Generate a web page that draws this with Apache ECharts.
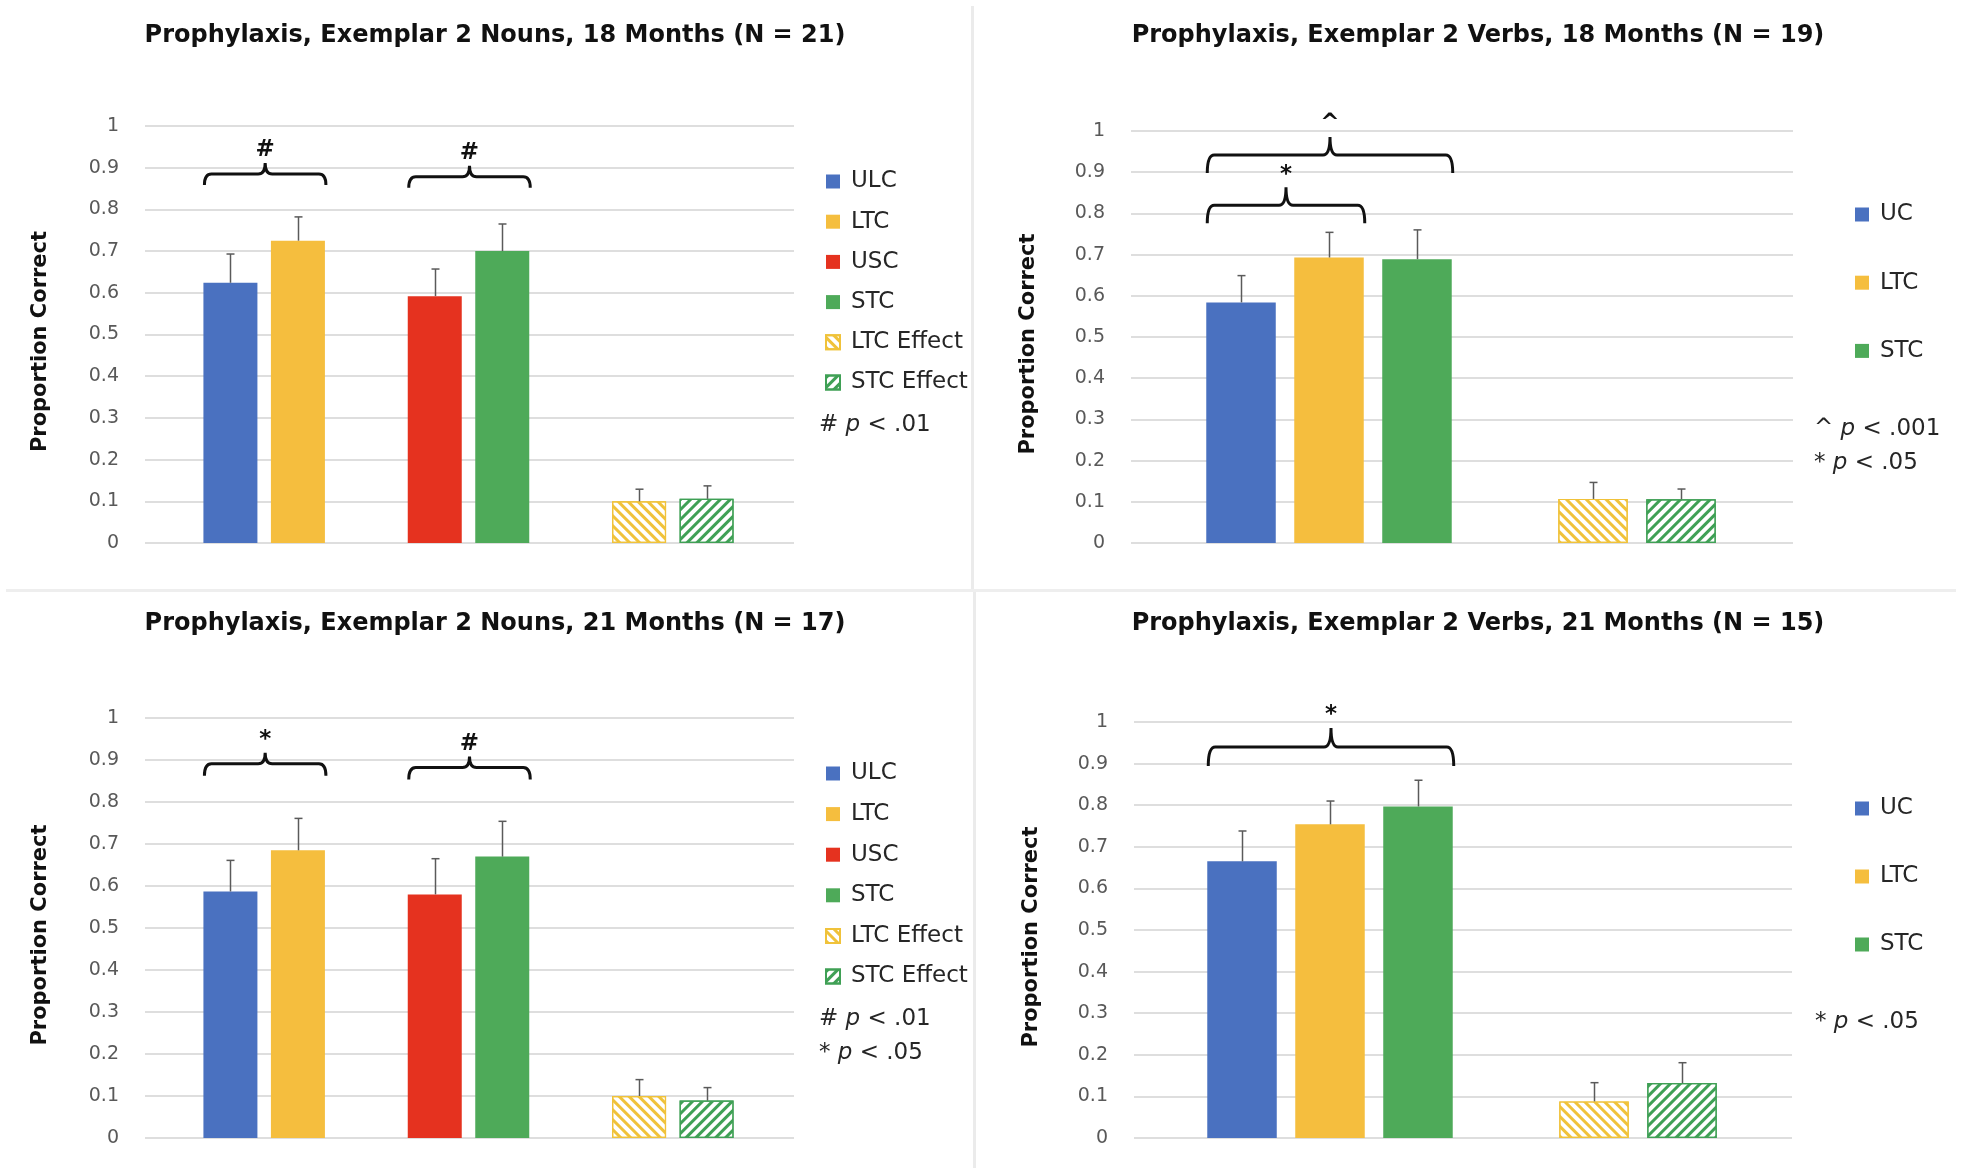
<!DOCTYPE html>
<html>
<head>
<meta charset="utf-8">
<script src="https://cdn.jsdelivr.net/npm/echarts@6/dist/echarts.min.js"></script>
<style>
  html, body { margin: 0; padding: 0; background: #ffffff; }
  #chart { width: 1962px; height: 1175px; }
</style>
</head>
<body>
<div id="chart"></div>
<script>
// ---------------- DATA ----------------
const yTicks = [0, 0.1, 0.2, 0.3, 0.4, 0.5, 0.6, 0.7, 0.8, 0.9, 1];

const nounsGroups = ['Label', 'Syntax', 'Effect'];
const nounsLabels = ['ULC', 'LTC', 'USC', 'STC', 'LTC Effect', 'STC Effect'];
const nounsGroupOf = [0, 0, 1, 1, 2, 2];
const nounsSlotOf = [0, 1, 0, 1, 0, 1];

const verbsGroups = ['Condition', 'Effect'];
const verbsLabels = ['UC', 'LTC', 'STC', 'LTC Effect', 'STC Effect'];
const verbsGroupOf = [0, 0, 0, 1, 1];
const verbsSlotOf = [0, 1, 2, 0, 1];

const nouns18Title = 'Prophylaxis, Exemplar 2 Nouns, 18 Months (N = 21)';
const nouns18Means = [0.624, 0.725, 0.592, 0.700, 0.100, 0.106];
const nouns18Errors = [0.069, 0.057, 0.065, 0.065, 0.029, 0.031];
const nouns18Notes = [['#', '< .01']];

const verbs18Title = 'Prophylaxis, Exemplar 2 Verbs, 18 Months (N = 19)';
const verbs18Means = [0.584, 0.693, 0.689, 0.107, 0.106];
const verbs18Errors = [0.065, 0.061, 0.071, 0.040, 0.025];
const verbs18Notes = [['^', '< .001'], ['*', '< .05']];

const nouns21Title = 'Prophylaxis, Exemplar 2 Nouns, 21 Months (N = 17)';
const nouns21Means = [0.587, 0.685, 0.580, 0.670, 0.100, 0.089];
const nouns21Errors = [0.074, 0.076, 0.085, 0.084, 0.039, 0.031];
const nouns21Notes = [['#', '< .01'], ['*', '< .05']];

const verbs21Title = 'Prophylaxis, Exemplar 2 Verbs, 21 Months (N = 15)';
const verbs21Means = [0.665, 0.754, 0.797, 0.088, 0.132];
const verbs21Errors = [0.073, 0.056, 0.063, 0.045, 0.049];
const verbs21Notes = [['*', '< .05']];

// significance brackets: group, first & last bar slot, level on the y scale, mark
const nouns18Brackets = [[0, 0, 1, 0.885, '#'], [1, 0, 1, 0.878, '#']];
const verbs18Brackets = [[0, 0, 2, 0.942, '^'], [0, 0, 1, 0.820, '*']];
const nouns21Brackets = [[0, 0, 1, 0.891, '*'], [1, 0, 1, 0.882, '#']];
const verbs21Brackets = [[0, 0, 2, 0.940, '*']];

// ---------------- STYLE ----------------
const FONT = 'DejaVu Sans';
const COLORS = {
  'ULC': '#4a71c0', 'UC': '#4a71c0',
  'LTC': '#f5be3e', 'USC': '#e5321f', 'STC': '#4eaa59'
};
const HATCH = {
  'LTC Effect': { color: '#f0c23a', rotation: Math.PI / 4 },
  'STC Effect': { color: '#3fa055', rotation: -Math.PI / 4 }
};

function barItemStyle(name) {
  if (HATCH[name]) {
    const h = HATCH[name];
    return {
      color: '#ffffff', borderColor: h.color, borderWidth: 1.2,
      decal: { symbol: 'rect', symbolSize: 1, color: h.color,
               dashArrayX: [1, 0], dashArrayY: [3, 3.2], rotation: h.rotation }
    };
  }
  return { color: COLORS[name] };
}

const panels = [
  { title: nouns18Title, titleX: 495, titleY: 24,
    gridA: { left: 145, top: 126, width: 649, height: 417 },
    gridB: { left: 162, top: 126, width: 613, height: 417 },
    groups: nounsGroups, labels: nounsLabels, groupOf: nounsGroupOf, slotOf: nounsSlotOf, slots: 2,
    means: nouns18Means, errors: nouns18Errors, brackets: nouns18Brackets,
    barW: 54, gap: 0.25, drop: 11, peak: 11, nameGap: 94,
    legendX: 825, legendY: 170, legendGap: 17.2, notes: nouns18Notes, noteX: 819, noteY: 425, noteStep: 34 },
  { title: verbs18Title, titleX: 1478, titleY: 24,
    gridA: { left: 1131, top: 131, width: 662, height: 412 },
    gridB: { left: 1153, top: 131, width: 704, height: 412 },
    groups: verbsGroups, labels: verbsLabels, groupOf: verbsGroupOf, slotOf: verbsSlotOf, slots: 3,
    means: verbs18Means, errors: verbs18Errors, brackets: verbs18Brackets,
    barW: 69.5, gap: 0.266, drop: 18, peak: 18, nameGap: 92,
    legendX: 1855, legendY: 203, legendGap: 45.2, notes: verbs18Notes, noteX: 1814, noteY: 429, noteStep: 34 },
  { title: nouns21Title, titleX: 495, titleY: 612,
    gridA: { left: 145, top: 718, width: 649, height: 420 },
    gridB: { left: 162, top: 718, width: 613, height: 420 },
    groups: nounsGroups, labels: nounsLabels, groupOf: nounsGroupOf, slotOf: nounsSlotOf, slots: 2,
    means: nouns21Means, errors: nouns21Errors, brackets: nouns21Brackets,
    barW: 54, gap: 0.25, drop: 12, peak: 11, nameGap: 94,
    legendX: 825, legendY: 762, legendGap: 17.6, notes: nouns21Notes, noteX: 819, noteY: 1019, noteStep: 34 },
  { title: verbs21Title, titleX: 1478, titleY: 612,
    gridA: { left: 1134, top: 722, width: 658, height: 416 },
    gridB: { left: 1154, top: 722, width: 704, height: 416 },
    groups: verbsGroups, labels: verbsLabels, groupOf: verbsGroupOf, slotOf: verbsSlotOf, slots: 3,
    means: verbs21Means, errors: verbs21Errors, brackets: verbs21Brackets,
    barW: 69.5, gap: 0.266, drop: 19, peak: 19, nameGap: 92,
    legendX: 1855, legendY: 797, legendGap: 45.0, notes: verbs21Notes, noteX: 1815, noteY: 1022, noteStep: 34 }
];

const option = {
  backgroundColor: '#ffffff',
  animation: false,
  title: [], grid: [], xAxis: [], yAxis: [], series: [], legend: [], graphic: []
};

panels.forEach((p, pi) => {
  const ga = option.grid.length, gb = ga + 1;
  option.grid.push(Object.assign({ containLabel: false }, p.gridA));
  option.grid.push(Object.assign({ containLabel: false }, p.gridB));
  option.title.push({
    text: p.title, left: p.titleX, top: p.titleY, textAlign: 'center', padding: 0,
    textStyle: { fontFamily: FONT, fontSize: 24, fontWeight: 'bold', color: '#111111' }
  });
  option.xAxis.push({ type: 'category', gridIndex: ga, data: p.groups, show: false });
  option.xAxis.push({ type: 'category', gridIndex: gb, data: p.groups, show: false });
  option.yAxis.push({
    type: 'value', gridIndex: ga, min: yTicks[0], max: yTicks[yTicks.length - 1],
    interval: yTicks[1] - yTicks[0],
    axisLine: { show: false }, axisTick: { show: false },
    axisLabel: { color: '#595959', fontFamily: FONT, fontSize: 19, margin: 26 },
    splitLine: { lineStyle: { color: '#dedede', width: 2 } },
    name: 'Proportion Correct', nameLocation: 'middle', nameGap: p.nameGap,
    nameTextStyle: { fontFamily: FONT, fontSize: 21, fontWeight: 'bold', color: '#111111',
                     padding: [0, 14, 0, 0] }
  });
  option.yAxis.push({ type: 'value', gridIndex: gb, min: 0, max: 1, show: false, splitLine: { show: false } });

  const axisB = pi * 2 + 1;
  p.labels.forEach((name, i) => {
    option.series.push({
      type: 'bar', name: name, xAxisIndex: axisB, yAxisIndex: axisB,
      stack: 'p' + pi + 's' + p.slotOf[i],
      barWidth: p.barW, barGap: (p.gap * 100) + '%',
      itemStyle: barItemStyle(name),
      data: p.groups.map((g, c) => c === p.groupOf[i] ? p.means[i] : '-')
    });
  });

  const step = p.barW * (1 + p.gap);
  const slotOffset = s => (s - (p.slots - 1) / 2) * step;

  // error bars
  option.series.push({
    type: 'custom', name: 'err' + pi, xAxisIndex: axisB, yAxisIndex: axisB, z: 5,
    encode: { x: 0, y: 1 },
    data: p.labels.map((n, i) => [p.groupOf[i], p.means[i], p.errors[i], p.slotOf[i]]),
    renderItem: (params, api) => {
      const c = api.value(0), m = api.value(1), e = api.value(2), s = api.value(3);
      const base = api.coord([c, m]);
      const top = api.coord([c, m + e]);
      const x = Math.round(base[0] + slotOffset(s)) + 0.5;
      const st = { stroke: '#5a5a5a', lineWidth: 1.5 };
      return { type: 'group', children: [
        { type: 'line', shape: { x1: x, y1: base[1], x2: x, y2: top[1] }, style: st },
        { type: 'line', shape: { x1: x - 4, y1: top[1], x2: x + 4, y2: top[1] }, style: st }
      ] };
    }
  });

  // brackets
  option.series.push({
    type: 'custom', name: 'br' + pi, xAxisIndex: axisB, yAxisIndex: axisB, z: 6, clip: false,
    encode: { x: 0, y: 3 },
    data: p.brackets,
    renderItem: (params, api) => {
      const b = p.brackets[params.dataIndex];
      const pt = api.coord([b[0], b[3]]);
      const xl = pt[0] + slotOffset(b[1]) - p.barW / 2 + 1;
      const xr = pt[0] + slotOffset(b[2]) + p.barW / 2 + 1;
      const xc = (xl + xr) / 2, y = pt[1], r = 7, d = p.drop, h = p.peak;
      const path = 'M' + xl + ',' + (y + d) + ' Q' + xl + ',' + y + ' ' + (xl + r) + ',' + y +
        ' L' + (xc - r) + ',' + y + ' Q' + xc + ',' + y + ' ' + xc + ',' + (y - h) +
        ' Q' + xc + ',' + y + ' ' + (xc + r) + ',' + y +
        ' L' + (xr - r) + ',' + y + ' Q' + xr + ',' + y + ' ' + xr + ',' + (y + d);
      return { type: 'group', children: [
        { type: 'path', shape: { pathData: path },
          style: { stroke: '#111111', fill: null, lineWidth: 3 } },
        { type: 'text', x: xc, y: y - h - 1,
          style: { text: b[4], align: 'center', verticalAlign: 'bottom',
                   fontFamily: FONT, fontSize: 23, fontWeight: 'bold', fill: '#111111' } }
      ] };
    }
  });

  option.legend.push({
    orient: 'vertical', left: p.legendX, top: p.legendY, padding: 0,
    itemWidth: 14, itemHeight: 14, itemGap: p.legendGap, icon: 'rect',
    selectedMode: false,
    data: p.labels.filter(n => pi % 2 === 0 || !HATCH[n]),
    textStyle: { fontFamily: FONT, fontSize: 23, lineHeight: 22, color: '#262626', padding: [0, 0, 0, 6] }
  });

  p.notes.forEach((n, k) => {
    option.graphic.push({
      type: 'text', x: p.noteX, y: p.noteY + k * p.noteStep, z: 10,
      style: {
        text: n[0] + ' {i|p} ' + n[1],
        rich: { i: { fontFamily: FONT, fontSize: 23, fontStyle: 'italic', fill: '#262626' } },
        fontFamily: FONT, fontSize: 23, fill: '#262626', verticalAlign: 'middle', align: 'left'
      }
    });
  });
});

// panel separators
option.graphic.push(
  { type: 'rect', shape: { x: 971, y: 6, width: 3, height: 584 }, style: { fill: '#ebebeb' }, z: -1 },
  { type: 'rect', shape: { x: 973, y: 592, width: 3, height: 576 }, style: { fill: '#ebebeb' }, z: -1 },
  { type: 'rect', shape: { x: 6, y: 589, width: 1950, height: 3 }, style: { fill: '#eeeeee' }, z: -1 }
);

const chart = echarts.init(document.getElementById('chart'), null, { renderer: 'canvas' });
chart.setOption(option);
</script>
</body>
</html>
